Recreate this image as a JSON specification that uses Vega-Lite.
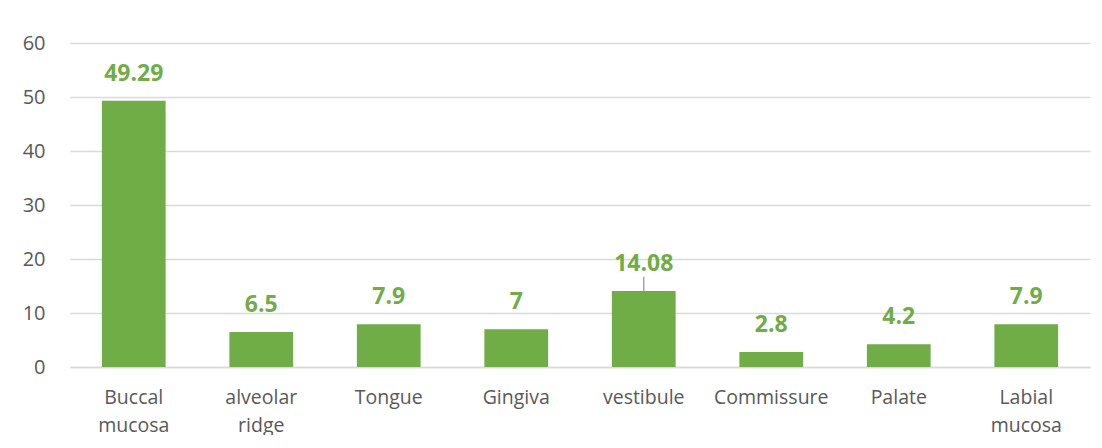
{
  "$schema": "https://vega.github.io/schema/vega-lite/v6.json",
  "width": 1020,
  "height": 324,
  "padding": {"left": 22, "top": 33, "right": 10, "bottom": 0},
  "background": "white",
  "config": {
    "view": {"stroke": null},
    "font": "Open Sans"
  },
  "data": {
    "values": [
      {"site": "Buccal mucosa", "pct": 49.29},
      {"site": "alveolar ridge", "pct": 6.5},
      {"site": "Tongue", "pct": 7.9},
      {"site": "Gingiva", "pct": 7},
      {"site": "vestibule", "pct": 14.08},
      {"site": "Commissure", "pct": 2.8},
      {"site": "Palate", "pct": 4.2},
      {"site": "Labial mucosa", "pct": 7.9}
    ]
  },
  "encoding": {
    "x": {
      "field": "site", "type": "nominal", "sort": null,
      "scale": {"paddingInner": 0.5, "paddingOuter": 0.25},
      "axis": {
        "title": null, "labelAngle": 0, "domain": true, "domainColor": "#d9d9d9", "domainWidth": 1.5,
        "ticks": false, "labelPadding": 21, "labelFontSize": 19.5, "labelColor": "#595959",
        "labelLineHeight": 28, "labelBaseline": "top",
        "labelExpr": "split(datum.label, ' ')"
      }
    }
  },
  "layer": [
    {
      "mark": {"type": "bar", "color": "#70AD47"},
      "encoding": {
        "y": {
          "field": "pct", "type": "quantitative",
          "scale": {"domain": [0, 60], "nice": false},
          "axis": {
            "title": null, "values": [0, 10, 20, 30, 40, 50, 60], "domain": false, "ticks": false,
            "labelPadding": 25, "labelFontSize": 20, "labelColor": "#595959",
            "gridColor": "#d9d9d9", "gridWidth": 1.5
          }
        }
      }
    },
    {
      "mark": {"type": "text", "color": "#70AD47", "fontWeight": "bold", "fontSize": 23, "dy": -20, "baseline": "alphabetic"},
      "encoding": {
        "y": {"field": "pct", "type": "quantitative"},
        "text": {"field": "pct", "type": "quantitative"}
      }
    },
    {
      "transform": [{"filter": "datum.site === 'vestibule'"}],
      "mark": {"type": "rule", "color": "#a6a6a6", "strokeWidth": 1.5},
      "encoding": {
        "y": {"field": "pct", "type": "quantitative"},
        "y2": {"datum": 16.7}
      }
    }
  ]
}
